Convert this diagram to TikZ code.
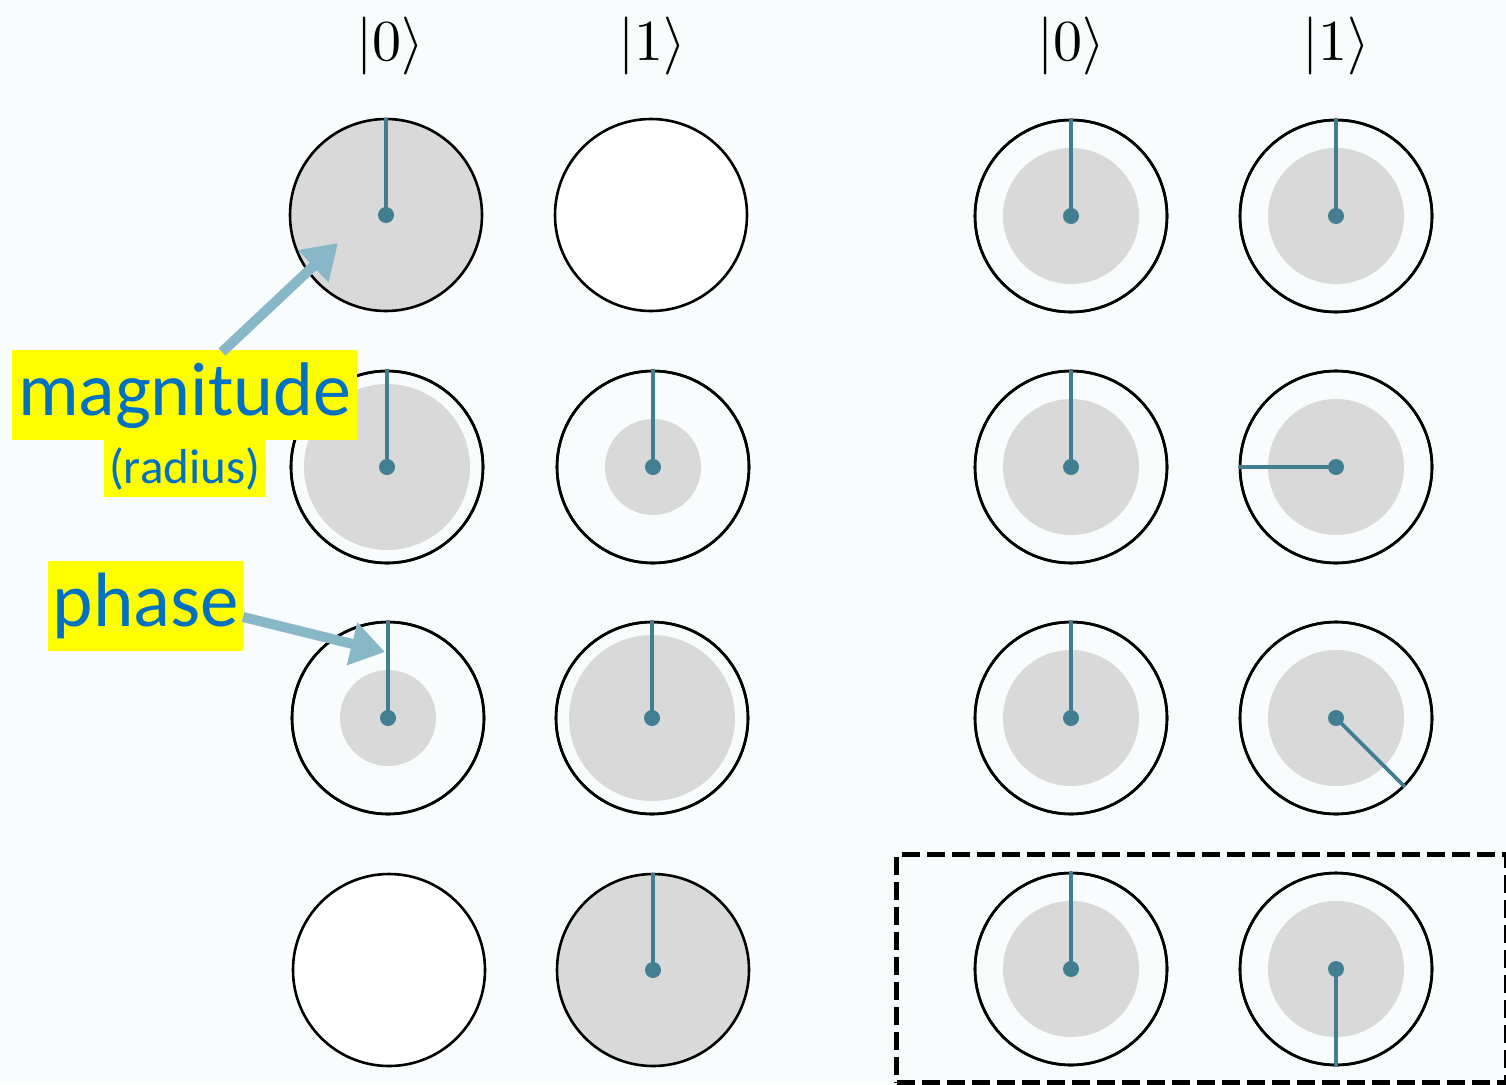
\documentclass[tikz,border=0pt]{standalone}
\usepackage{fontspec}
\usepackage{unicode-math}
\setmainfont{Carlito}
\setmathfont{Latin Modern Math}
\usetikzlibrary{arrows.meta}
\definecolor{bgc}{HTML}{F9FCFC}
\definecolor{grayfill}{HTML}{D9D9D9}
\definecolor{teal}{HTML}{417E92}
\definecolor{arrowblue}{HTML}{88B8C8}
\definecolor{labelblue}{HTML}{0070C0}
\definecolor{hl}{HTML}{FFFF00}
\tikzset{
  outer/.style={circle, draw=black, line width=2.6pt, minimum size=192pt, inner sep=0pt},
  phaseline/.style={teal, line width=3.6pt},
  phasedot/.style={circle, fill=teal, minimum size=16pt, inner sep=0pt},
  callout/.style={arrowblue, line width=10pt, -{Triangle[length=34pt,width=42pt]}},
  labelbox/.style={fill=hl, text=labelblue, inner sep=0pt, anchor=north west},
  ket/.style={font=\fontsize{58}{60}\selectfont, inner sep=0pt}
}
% #1 name, #2 x, #3 y, #4 inner radius, #5 angle
\newcommand{\qcirc}[5]{%
  \node[outer, fill=bgc] (#1) at (#2,#3) {};
  \fill[grayfill] (#2,#3) circle[radius=#4];
  \draw[outer, fill=none] (#2,#3) circle[radius=96];
  \draw[phaseline] (#1.center) -- (#1.#5);
  \node[phasedot] (#1dot) at (#1.center) {};
}
\begin{document}
\begin{tikzpicture}[x=1pt,y=-1pt]
\fill[bgc] (0,0) rectangle (1506,1084);
\useasboundingbox (0,0) rectangle (1506,1084);

% kets
\node[ket] (k0L) at (390,46) {$|0\rangle$};
\node[ket] (k1L) at (652,46) {$|1\rangle$};
\node[ket] (k0R) at (1071,46) {$|0\rangle$};
\node[ket] (k1R) at (1336,46) {$|1\rangle$};

% left panel
\node[outer, fill=grayfill] (L11) at (386,215) {};
\draw[phaseline] (L11.center) -- (L11.90);
\node[phasedot] (L11dot) at (L11.center) {};
\node[outer, fill=white] (L12) at (651,215) {};

\qcirc{L21}{387}{467}{83}{90}
\qcirc{L22}{653}{467}{48}{90}
\qcirc{L31}{388}{718}{48}{90}
\qcirc{L32}{652}{718}{83}{90}

\node[outer, fill=white] (L41) at (389,970) {};
\node[outer, fill=grayfill] (L42) at (653,970) {};
\draw[phaseline] (L42.center) -- (L42.90);
\node[phasedot] (L42dot) at (L42.center) {};

% right panel
\qcirc{R11}{1071}{216}{68}{90}
\qcirc{R12}{1336}{216}{68}{90}
\qcirc{R21}{1071}{467}{68}{90}
\qcirc{R22}{1336}{467}{68}{180}
\qcirc{R31}{1071}{718}{68}{90}
\qcirc{R32}{1336}{718}{68}{-45}
\qcirc{R41}{1071}{969}{68}{90}
\qcirc{R42}{1336}{969}{68}{-90}

% dashed frame
\node[draw=black, line width=5pt, dash pattern=on 18pt off 7pt, minimum width=610pt, minimum height=228pt, inner sep=0pt, anchor=north west] (frame) at (894,852) {};

% labels
\node[labelbox, minimum width=345pt, minimum height=90pt] (mag) at (12,350) {\fontsize{76}{76}\selectfont magnitude};
\node[labelbox, minimum width=161pt, minimum height=57pt] (rad) at (104,440) {\fontsize{49}{49}\selectfont (radius)};
\node[labelbox, minimum width=195pt, minimum height=90pt] (pha) at (48,561) {\fontsize{77}{77}\selectfont phase};

% callout arrows
\coordinate (magtail) at (222,352);
\coordinate (magtip) at (338,243);
\coordinate (phatail) at (243,617);
\coordinate (phatip) at (385,652);
\draw[callout] (magtail) -- (magtip);
\draw[callout] (phatail) -- (phatip);
\end{tikzpicture}
\end{document}
